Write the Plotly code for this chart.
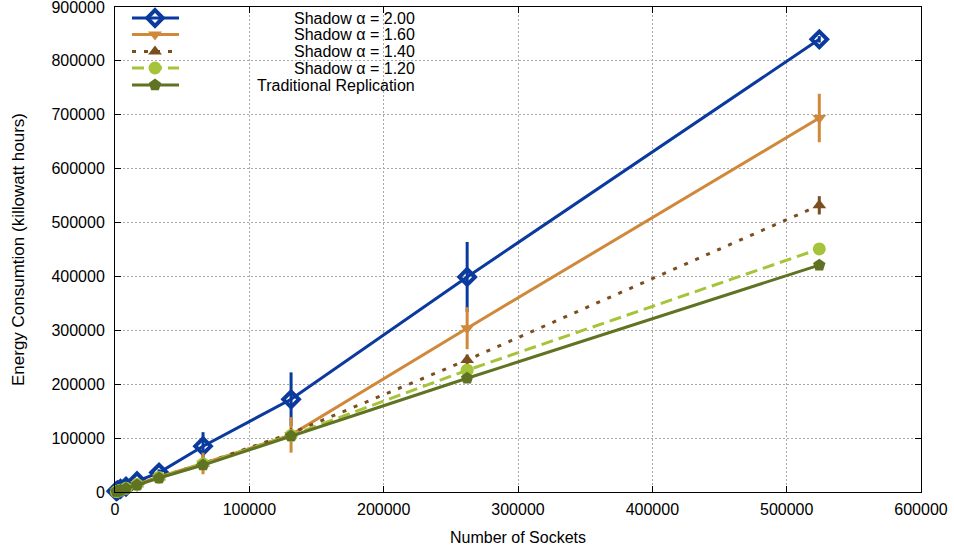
import plotly.graph_objects as go

# Number of sockets simulated
sockets = [1024, 2048, 4096, 8192, 16384, 32768, 65536, 131072, 262144, 524288]

# Energy consumption (kWh) per configuration
shadow_200 = [1600, 3200, 5800, 10000, 20000, 36000, 85000, 172000, 399000, 840000]
shadow_200_err = [300, 500, 800, 1500, 3000, 6000, 26000, 50000, 65000, 6000]
shadow_160 = [900, 1850, 3700, 7300, 14600, 28000, 53000, 106000, 304000, 694000]
shadow_160_err = [200, 300, 600, 1200, 2500, 5000, 20000, 33000, 39000, 45000]
shadow_140 = [880, 1800, 3600, 7100, 14200, 27500, 52500, 109000, 245000, 532000]
shadow_140_err = [100, 200, 300, 600, 1000, 2000, 4000, 6000, 10000, 17000]
shadow_120 = [860, 1720, 3450, 6900, 13800, 27000, 52000, 105000, 226000, 451000]
shadow_120_err = [50, 100, 200, 300, 600, 1000, 2000, 3000, 5000, 6000]
traditional = [820, 1640, 3280, 6550, 13000, 26000, 50000, 104000, 211000, 421000]

series_names = ["Shadow \u03b1 = 2.00", "Shadow \u03b1 = 1.60", "Shadow \u03b1 = 1.40",
                "Shadow \u03b1 = 1.20", "Traditional Replication"]

x_ticks = [0, 100000, 200000, 300000, 400000, 500000, 600000]
y_ticks = [0, 100000, 200000, 300000, 400000, 500000, 600000, 700000, 800000, 900000]

colors = ["#0b3a9e", "#d0883a", "#7a4e1e", "#a6c43a", "#5f7322"]
dashes = ["solid", "solid", "4px,8px", "12px,6px", "solid"]
symbols = ["diamond-open", "triangle-down", "triangle-up", "circle", "pentagon"]
sizes = [12, 12, 12, 13, 13]

values = [shadow_200, shadow_160, shadow_140, shadow_120, traditional]
errors = [shadow_200_err, shadow_160_err, shadow_140_err, shadow_120_err, None]

FONT = "Liberation Sans, Arial, sans-serif"
FS = 16


def make_marker(sym, sz, col):
    m = dict(symbol=sym, size=sz, color=col)
    if sym.endswith("open"):
        m["line"] = dict(color=col, width=4)
    return m


fig = go.Figure()

for name, ys, err, col, dash, sym, sz in zip(series_names, values, errors,
                                              colors, dashes, symbols, sizes):
    fig.add_trace(go.Scatter(
        x=sockets, y=ys, mode="lines+markers", name=name,
        line=dict(color=col, width=3, dash=dash),
        marker=make_marker(sym, sz, col),
        error_y=(dict(type="data", array=err, visible=True, color=col,
                      thickness=3, width=0) if err else None),
        showlegend=False, cliponaxis=False,
    ))

# Key drawn inside the plot frame (pixel-based overlay axes)
key_rows = [11, 27.5, 44.5, 61, 78]
for name, row, col, dash, sym, sz in zip(series_names, key_rows, colors,
                                         dashes, symbols, sizes):
    fig.add_trace(go.Scatter(
        x=[17, 64], y=[row, row], mode="lines", xaxis="x2", yaxis="y2",
        line=dict(color=col, width=3, dash=dash), showlegend=False,
        hoverinfo="skip"))
    fig.add_trace(go.Scatter(
        x=[40], y=[row], mode="markers", xaxis="x2", yaxis="y2",
        marker=make_marker(sym, sz, col), showlegend=False, hoverinfo="skip"))
    fig.add_annotation(x=302, y=row, xref="x2", yref="y2", text=name,
                       showarrow=False, xanchor="right", yanchor="middle",
                       font=dict(family=FONT, size=FS, color="black"))

axis_common = dict(
    showline=True, linecolor="black", linewidth=1, mirror="ticks",
    ticks="inside", ticklen=6, tickcolor="black",
    showgrid=True, gridcolor="#a8a8a8", griddash="2px,2px", gridwidth=1,
    zeroline=False, tickfont=dict(family=FONT, size=FS, color="black"),
    tickmode="array", ticklabeloverflow="allow", automargin=False,
)

fig.update_layout(
    width=954, height=552,
    margin=dict(l=115, r=33, t=7, b=60),
    paper_bgcolor="white", plot_bgcolor="white",
    font=dict(family=FONT, size=FS, color="black"),
    xaxis=dict(range=[0, 600000], tickvals=x_ticks,
               ticktext=[str(v) for v in x_ticks], ticklabelstandoff=3,
               title=dict(text="Number of Sockets", standoff=14,
                          font=dict(family=FONT, size=FS)),
               **axis_common),
    yaxis=dict(range=[0, 900000], tickvals=y_ticks,
               ticktext=[str(v) for v in y_ticks], ticklabelstandoff=6,
               title=dict(text="Energy Consumtion (killowatt hours)", standoff=22,
                          font=dict(family=FONT, size=17)),
               **axis_common),
    xaxis2=dict(range=[0, 806], overlaying="x", visible=False, fixedrange=True),
    yaxis2=dict(range=[485, 0], overlaying="y", visible=False, fixedrange=True,
                anchor="x2"),
)

fig.write_html("out.html")
